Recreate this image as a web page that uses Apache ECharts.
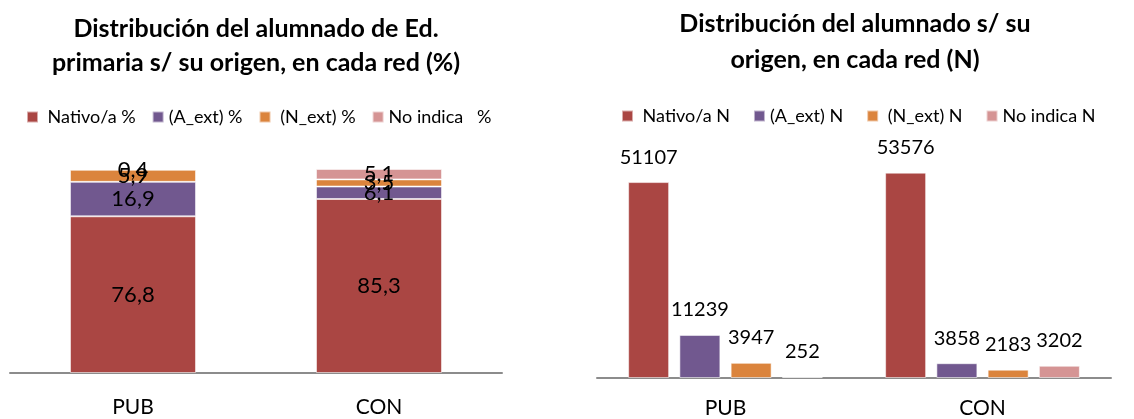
<!DOCTYPE html>
<html>
<head>
<meta charset="utf-8">
<script src="https://cdn.jsdelivr.net/npm/echarts@6/dist/echarts.min.js"></script>
<style>
  html, body { margin: 0; padding: 0; background: #fff; }
  #wrap { position: relative; width: 1134px; height: 419px; overflow: hidden; }
  #left { position: absolute; left: 0; top: 0; width: 512px; height: 419px; }
  #right { position: absolute; left: 576px; top: 0; width: 558px; height: 419px; }
</style>
</head>
<body>
<div id="wrap"><div id="left"></div><div id="right"></div></div>
<script>
// ---- data ----
const categories = ['PUB', 'CON'];

const pctNames = [' Nativo/a %', '(A_ext) %', ' (N_ext) %', 'No indica   %'];
const pctNativo = [76.8, 85.3];
const pctAext = [16.9, 6.1];
const pctNext = [5.9, 3.5];
const pctNoIndica = [0.4, 5.1];

const nNames = [' Nativo/a N', '(A_ext) N', ' (N_ext) N', 'No indica N'];
const nNativo = [51107, 53576];
const nAext = [11239, 3858];
const nNext = [3947, 2183];
const nNoIndica = [252, 3202];

const colors = ['#AA4643', '#71588F', '#DB843D', '#D59494'];
const FONT = 'Lato, "Liberation Sans", sans-serif';

// ---- left chart: stacked percentages ----
const pctData = [pctNativo, pctAext, pctNext, pctNoIndica];
const left = echarts.init(document.getElementById('left'));
left.setOption({
  animation: false,
  color: colors,
  textStyle: { fontFamily: FONT },
  title: {
    text: 'Distribución del alumnado de Ed.\nprimaria s/ su origen, en cada red (%)',
    left: 'center', top: 12, padding: 0,
    textStyle: { fontFamily: FONT, fontWeight: 'bold', fontSize: 25, lineHeight: 34, color: '#000' }
  },
  legend: {
    data: pctNames, left: 26, top: 108, padding: 0,
    icon: 'rect', itemWidth: 11, itemHeight: 11, itemGap: 16,
    textStyle: { fontFamily: FONT, fontSize: 18, color: '#000' }
  },
  grid: { left: 10, right: 10, top: 169, bottom: 46 },
  xAxis: {
    type: 'category', data: categories,
    axisLine: { lineStyle: { color: '#8c8c8c', width: 2 } },
    axisTick: { show: false },
    axisLabel: { fontFamily: FONT, fontSize: 21, color: '#000', margin: 24 }
  },
  yAxis: { type: 'value', min: 0, max: 100, show: false, splitLine: { show: false } },
  series: pctNames.map((name, i) => ({
    name, type: 'bar', stack: 'total', barWidth: 126,
    data: pctData[i],
    itemStyle: { borderColor: 'rgba(255,255,255,0.55)', borderWidth: 1 },
    label: {
      show: true, position: 'inside', fontFamily: FONT, fontSize: 22, color: '#000',
      formatter: p => p.value.toFixed(1).replace('.', ',')
    }
  }))
});

// ---- right chart: counts ----
const nData = [nNativo, nAext, nNext, nNoIndica];
const right = echarts.init(document.getElementById('right'));
right.setOption({
  animation: false,
  color: colors,
  textStyle: { fontFamily: FONT },
  title: {
    text: 'Distribución del alumnado s/ su\norigen, en cada red (N)',
    left: 'center', top: 6, padding: 0,
    textStyle: { fontFamily: FONT, fontWeight: 'bold', fontSize: 25, lineHeight: 36, color: '#000' }
  },
  legend: {
    data: nNames, left: 45, top: 107, padding: 0,
    icon: 'rect', itemWidth: 11, itemHeight: 11, itemGap: 23,
    textStyle: { fontFamily: FONT, fontSize: 18, color: '#000' }
  },
  grid: { left: 21, right: 23, top: 148, bottom: 40 },
  xAxis: {
    type: 'category', data: categories,
    axisLine: { lineStyle: { color: '#8c8c8c', width: 2 } },
    axisTick: { show: false },
    axisLabel: { fontFamily: FONT, fontSize: 21, color: '#000', margin: 20 }
  },
  yAxis: { type: 'value', min: 0, max: 60000, show: false, splitLine: { show: false } },
  series: nNames.map((name, i) => ({
    name, type: 'bar', barWidth: 41, barGap: '25%',
    data: nData[i],
    itemStyle: { borderColor: 'rgba(255,255,255,0.55)', borderWidth: 1 },
    label: {
      show: true, position: 'top', distance: 15, fontFamily: FONT, fontSize: 20, color: '#000'
    }
  }))
});
</script>
</body>
</html>
